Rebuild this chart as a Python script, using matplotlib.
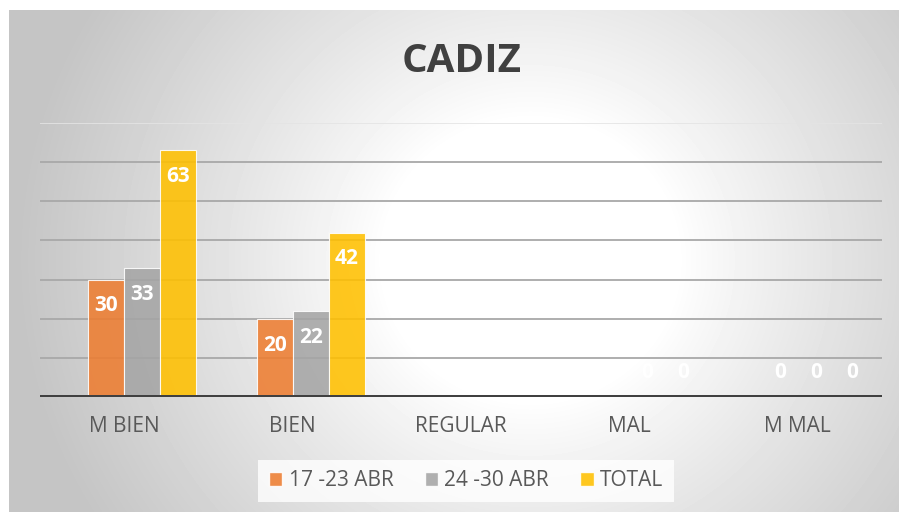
"""
    CADIZ: valoraciones por semana
"""
import numpy as np
import matplotlib.pyplot as plt
from matplotlib.patches import Patch

plt.rcParams['font.family'] = ['Open Sans', 'DejaVu Sans']

# datos
CATEGORIAS = ['M BIEN', 'BIEN', 'REGULAR', 'MAL', 'M MAL']
SERIES = ['17 -23 ABR', '24 -30 ABR', 'TOTAL']
SEM_1 = [30, 20, 0, 0, 0]
SEM_2 = [33, 22, 0, 0, 0]
TOTAL = [63, 42, 0, 0, 0]
COLORES = ['#ED7D31', '#A5A5A5', '#FFC000']


def fondo(fig):
    """
        fondo con degradado radial (blanco en el centro, gris en los bordes)
    """
    bg = fig.add_axes([9 / 899, 0, 1 - 9 / 899, 502 / 512], zorder=-10)
    w, h = 890, 502
    xx, yy = np.meshgrid(np.arange(w) + 9, np.arange(h) + 10)
    d = np.sqrt(((xx - 530) / 460.0) ** 2 + ((yy - 260) / 440.0) ** 2)
    v = 1 - 0.23 * np.clip((d - 0.32) / 0.8, 0, 1) ** 0.9
    bg.imshow(v, cmap='gray', vmin=0, vmax=1, aspect='auto', interpolation='bilinear')
    bg.axis('off')


def main():
    fig = plt.figure(figsize=(8.99, 5.12), dpi=100, facecolor='white')
    fondo(fig)

    ax = fig.add_axes([40 / 899, 115 / 512, 842 / 899, 274 / 512])
    ax.patch.set_alpha(0)

    x = np.arange(len(CATEGORIAS))
    ancho = 36 / 168
    # Excel deja un hueco vacio para una serie oculta al principio
    desplaz = [-0.5 * ancho, 0.5 * ancho, 1.5 * ancho]

    for datos, color, dx in zip([SEM_1, SEM_2, TOTAL], COLORES, desplaz):
        ax.bar(x + dx, datos, width=ancho, color=color, alpha=0.88,
               edgecolor=(1, 1, 1, 0.6), linewidth=0.8, zorder=3)
        for xi, v in zip(x + dx, datos):
            off = -19 if v > 0 else 18
            ax.annotate(str(v), (xi, v), xytext=(0, off), textcoords='offset points',
                        ha='center', va='center', color='white', fontsize=15,
                        fontweight='bold', zorder=4)

    # lineas de division
    for g in range(10, 70, 10):
        ax.axhline(g, color='#a8a8a8', lw=1.3, zorder=1)
    ax.axhline(70, color='#e4e4e4', lw=1.2, zorder=1)
    ax.axhline(0, color='#404040', lw=3.6, zorder=5)

    ax.set_xlim(-0.5, 4.5)
    ax.set_ylim(0, 70)
    ax.set_yticks([])
    ax.set_xticks(x)
    ax.set_xticklabels(CATEGORIAS, fontsize=15, color='#595959')
    ax.tick_params(axis='x', length=0, pad=14)
    for s in ax.spines.values():
        s.set_visible(False)

    fig.text(462 / 899, 1 - 62 / 512, 'CADIZ', ha='center', va='center',
             fontsize=29, fontweight='bold', color='#404040')

    handles = [Patch(facecolor=c, alpha=0.88, edgecolor=(1, 1, 1, 0.6)) for c in COLORES]
    leg = fig.legend(handles, SERIES, loc='center', bbox_to_anchor=(466 / 899, 1 - 481 / 512),
                     ncol=3, frameon=True, fontsize=15, labelcolor='#595959',
                     handlelength=0.65, handleheight=0.65, handletextpad=0.3, columnspacing=1.5,
                     fancybox=False, borderpad=0.5)
    leg.get_frame().set_facecolor((1, 1, 1, 0.07))
    leg.get_frame().set_edgecolor('none')

    plt.savefig('out.png', dpi=100, facecolor='white')


if __name__ == '__main__':
    main()
